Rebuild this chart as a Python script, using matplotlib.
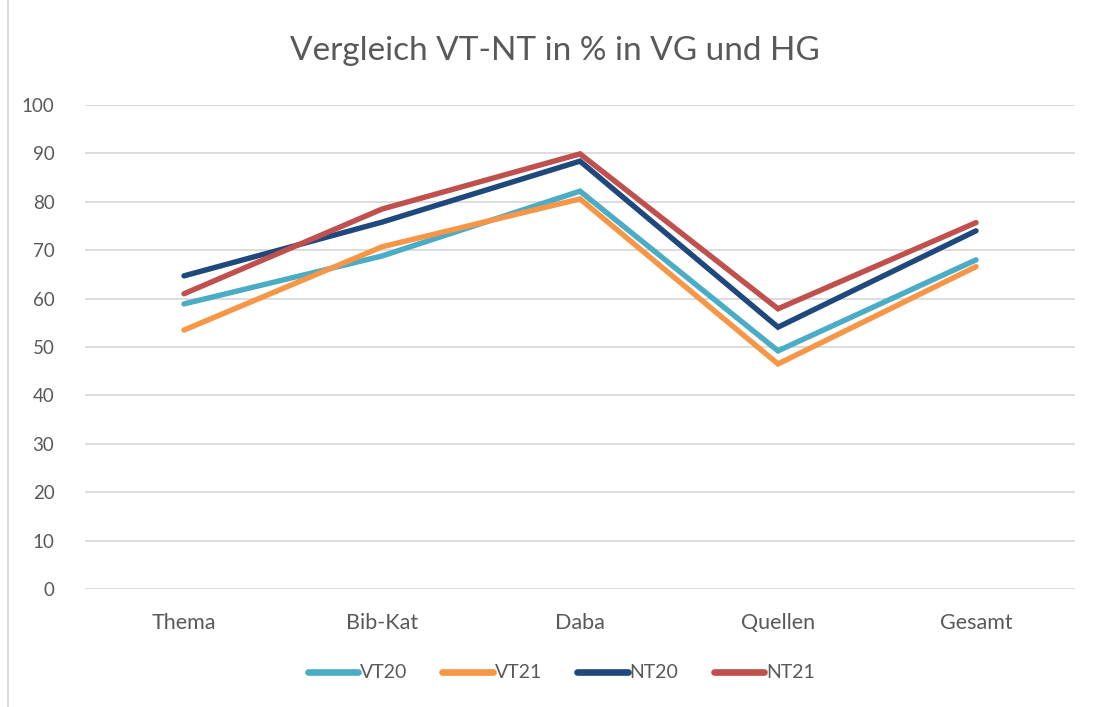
import numpy as np
import matplotlib.pyplot as plt
from matplotlib.lines import Line2D

plt.rcParams["font.family"] = ["Lato", "DejaVu Sans"]

# Kategorien und Werte in %
kategorien = ["Thema", "Bib-Kat", "Daba", "Quellen", "Gesamt"]
vt20 = [58.9, 68.8, 82.2, 49.2, 68.0]
vt21 = [53.5, 70.7, 80.6, 46.5, 66.6]
nt20 = [64.7, 75.8, 88.4, 54.1, 74.0]
nt21 = [61.0, 78.5, 89.9, 57.9, 75.7]

serien = [("VT20", vt20, "#4BACC6"),
          ("VT21", vt21, "#F79646"),
          ("NT20", nt20, "#1F497D"),
          ("NT21", nt21, "#C0504D")]

grau = "#595959"
gitter = "#D9D9D9"

fig = plt.figure(figsize=(10.96, 7.07), dpi=100)
ax = fig.add_axes([85/1096, 118/707, 990/1096, 484/707])

x = np.arange(len(kategorien))
for name, werte, farbe in serien:
    ax.plot(x, werte, color=farbe, lw=3.9, solid_capstyle="round",
            solid_joinstyle="miter", label=name)

ax.set_xlim(-0.5, len(kategorien) - 0.5)
ax.set_ylim(0, 100)
ax.set_yticks(range(0, 101, 10))
ax.set_xticks(x)
ax.set_xticklabels(kategorien)
ax.grid(axis="y", color=gitter, lw=1.3)
ax.set_axisbelow(True)
for s in ax.spines.values():
    s.set_visible(False)
ax.tick_params(length=0, colors=grau)
ax.tick_params(axis="y", labelsize=13.5, pad=22)
ax.tick_params(axis="x", labelsize=15.5, pad=17)

fig.text(555/1096, 1 - 51/707, "Vergleich VT-NT in % in VG und HG", ha="center",
         va="center", fontsize=24, color=grau)

leg = fig.legend(loc="center", bbox_to_anchor=(0.512, 1 - 673/707), ncol=4,
                 frameon=False, fontsize=14, handlelength=2.6,
                 columnspacing=1.8, handletextpad=0.1)
for t in leg.get_texts():
    t.set_color(grau)
for h in leg.get_lines():
    h.set_linewidth(4.8)
    h.set_solid_capstyle("round")

# Rahmen links
fig.add_artist(Line2D([8/1096, 8/1096], [0, 1], transform=fig.transFigure,
                      color=gitter, lw=1.3))

fig.savefig("out.png", dpi=100, facecolor="white")
